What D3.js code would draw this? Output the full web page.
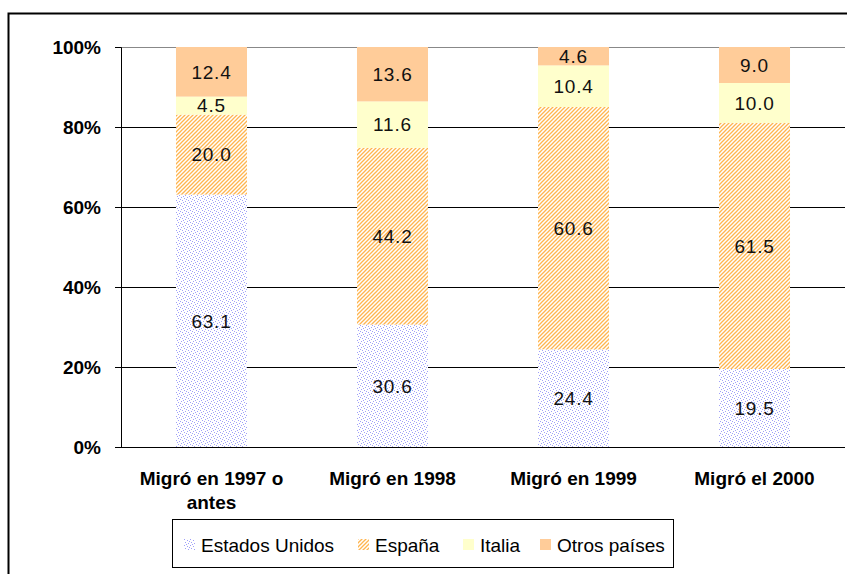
<!DOCTYPE html>
<html>
<head>
<meta charset="utf-8">
<script src="https://cdn.jsdelivr.net/npm/d3@7"></script>
<style>
body { margin: 0; background: #fff; }
text { font-family: "Liberation Sans", Arial, sans-serif; }
</style>
</head>
<body>
<div class="canvas"></div>
<script>
// data
const categories = [['Migró en 1997 o', 'antes'], ['Migró en 1998'], ['Migró en 1999'], ['Migró el 2000']];
const seriesNames = ['Estados Unidos', 'España', 'Italia', 'Otros países'];
const estadosUnidos = [63.1, 30.6, 24.4, 19.5];
const espana = [20.0, 44.2, 60.6, 61.5];
const italia = [4.5, 11.6, 10.4, 10.0];
const otros = [12.4, 13.6, 4.6, 9.0];
const yTicks = [0, 20, 40, 60, 80, 100];

const width = 847, height = 574;
const margin = {top: 47, right: 2, bottom: 127, left: 121};
const graphWidth = width - margin.left - margin.right;
const graphHeight = height - margin.top - margin.bottom;

const svg = d3.select('.canvas')
.append('svg')
.attr('width', width)
.attr('height', height);

// patterns
const defs = svg.append('defs');
const dots = defs.append('pattern')
.attr('id', 'dots')
.attr('patternUnits', 'userSpaceOnUse')
.attr('width', 6).attr('height', 6);
dots.append('rect').attr('width', 6).attr('height', 6).attr('fill', '#fff');
[[0, 0], [3, 1], [1, 3], [4, 4], [2, 5], [5, 2]].forEach(p => {
    dots.append('rect').attr('x', p[0]).attr('y', p[1]).attr('width', 1).attr('height', 1).attr('fill', '#a0a0f8');
});

const stripes = defs.append('pattern')
.attr('id', 'stripes')
.attr('patternUnits', 'userSpaceOnUse')
.attr('width', 4).attr('height', 4);
stripes.append('rect').attr('width', 4).attr('height', 4).attr('fill', '#fff');
stripes.append('path')
.attr('d', 'M-1,1 L1,-1 M0,4 L4,0 M3,5 L5,3')
.attr('stroke', '#ffb54f')
.attr('stroke-width', 1.3);

const fills = ['url(#dots)', 'url(#stripes)', '#ffffcc', '#ffcc99'];

// outer frame
svg.append('rect')
.attr('x', 8.5).attr('y', 13.5)
.attr('width', width + 10).attr('height', height + 10)
.attr('fill', 'none')
.attr('stroke', '#000')
.attr('stroke-width', 2);

const graph = svg.append('g')
.attr('transform', `translate(${margin.left},${margin.top})`);

// scales
const x = d3.scaleBand()
.domain(d3.range(categories.length))
.range([0, graphWidth])
.paddingInner(0.6077)
.paddingOuter(0.3038);

const y = d3.scaleLinear()
.domain([0, 100])
.range([graphHeight, 0]);

// gridlines
graph.append('g')
.selectAll('line')
.data(yTicks.filter(d => d > 0))
.enter().append('line')
.attr('x1', 0).attr('x2', graphWidth)
.attr('y1', d => Math.round(y(d)) + 0.5)
.attr('y2', d => Math.round(y(d)) + 0.5)
.attr('stroke', d => d === 100 ? '#888' : '#000')
.attr('stroke-width', 1);

// stack
const table = categories.map((c, i) => ({
    i: i,
    'Estados Unidos': estadosUnidos[i],
    'España': espana[i],
    'Italia': italia[i],
    'Otros países': otros[i]
}));
const stacked = d3.stack().keys(seriesNames)(table);

const layers = graph.selectAll('g.layer')
.data(stacked)
.enter().append('g')
.attr('class', 'layer')
.attr('fill', (d, i) => fills[i]);

layers.selectAll('rect')
.data(d => d)
.enter().append('rect')
.attr('x', d => x(d.data.i))
.attr('width', x.bandwidth())
.attr('y', d => y(d[1]))
.attr('height', d => y(d[0]) - y(d[1]));

layers.selectAll('text')
.data(d => d.map(v => ({v: v, key: d.key})))
.enter().append('text')
.attr('x', d => x(d.v.data.i) + x.bandwidth() / 2)
.attr('y', d => (y(d.v[0]) + y(d.v[1])) / 2)
.attr('dy', '0.36em')
.attr('text-anchor', 'middle')
.attr('font-size', 19)
.attr('letter-spacing', 0.8)
.attr('fill', '#111')
.text(d => d.v.data[d.key].toFixed(1));

// axes
const yAxis = d3.axisLeft(y)
.tickValues(yTicks)
.tickSize(6)
.tickFormat(d => d + '%');

const yAxisGroup = graph.append('g').call(yAxis);
yAxisGroup.select('.domain').attr('stroke', '#000');
yAxisGroup.selectAll('text')
.attr('x', -20)
.attr('font-size', 19)
.attr('font-weight', 'bold')
.attr('font-family', '"Liberation Sans", Arial, sans-serif');

graph.append('line')
.attr('x1', 0).attr('x2', graphWidth)
.attr('y1', graphHeight + 0.5).attr('y2', graphHeight + 0.5)
.attr('stroke', '#000');

const xLabels = graph.append('g')
.selectAll('text')
.data(categories)
.enter().append('text')
.attr('x', (d, i) => x(i) + x.bandwidth() / 2)
.attr('y', graphHeight + 38)
.attr('text-anchor', 'middle')
.attr('font-size', 19)
.attr('font-weight', 'bold');

xLabels.selectAll('tspan')
.data(d => d)
.enter().append('tspan')
.attr('x', function () { return d3.select(this.parentNode).attr('x'); })
.attr('dy', (d, i) => i === 0 ? 0 : 24)
.text(d => d);

// legend
const legend = svg.append('g');
legend.append('rect')
.attr('x', 172.5).attr('y', 519.5)
.attr('width', 501).attr('height', 48)
.attr('fill', '#fff')
.attr('stroke', '#000');

const legendX = [184, 358, 463, 540];
const items = legend.selectAll('g.item')
.data(seriesNames)
.enter().append('g')
.attr('class', 'item')
.attr('transform', (d, i) => `translate(${legendX[i]},539)`);

items.append('rect')
.attr('width', 11).attr('height', 11)
.attr('fill', (d, i) => fills[i]);

items.append('text')
.attr('x', 17)
.attr('y', 6)
.attr('dy', '0.36em')
.attr('font-size', 19)
.text(d => d);
</script>
</body>
</html>
